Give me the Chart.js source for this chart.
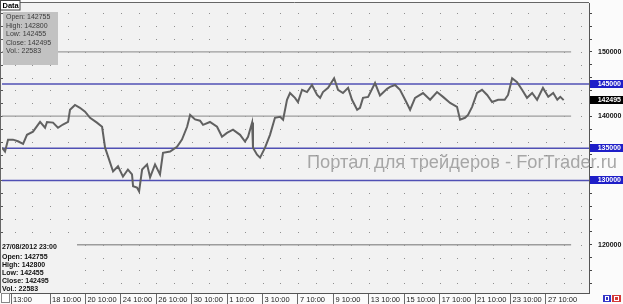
<!DOCTYPE html>
<html><head><meta charset="utf-8">
<script src="https://cdn.jsdelivr.net/npm/chart.js@4/dist/chart.umd.min.js"></script>
<style>html,body{margin:0;padding:0;background:#fbfbfb;overflow:hidden}canvas{display:block}</style>
</head><body>
<canvas id="c" width="623" height="304"></canvas>
<script>
// ---- data (time in trading days from left edge of the view) ----
const barDays = [0.00,0.17,0.34,0.62,0.90,1.19,1.41,1.75,2.15,2.43,2.54,2.88,3.16,3.44,3.73,3.84,4.12,4.40,4.69,4.97,5.36,5.65,5.82,5.99,6.27,6.55,6.83,7.11,7.34,7.40,7.62,7.74,7.91,8.19,8.36,8.64,8.92,9.09,9.49,9.88,10.16,10.45,10.62,10.90,11.18,11.35,11.74,12.14,12.42,12.70,13.04,13.44,13.72,13.89,14.12,14.17,14.40,14.57,14.85,15.13,15.41,15.70,15.87,16.09,16.26,16.54,16.71,16.94,17.22,17.50,17.79,17.96,18.12,18.41,18.75,18.97,19.25,19.54,19.76,20.05,20.21,20.38,20.67,21.06,21.34,21.74,21.91,22.19,22.47,22.76,23.04,23.32,23.77,24.17,24.56,24.90,25.30,25.69,25.86,26.14,26.31,26.54,26.82,27.10,27.39,27.67,28.01,28.38,28.57,28.80,29.08,29.36,29.64,29.93,30.21,30.54,30.84,31.12,31.35,31.52,31.71];
const closePrices = [135100,134500,136350,136350,136100,135700,137100,137600,139100,138200,139100,139000,138200,138700,139100,141000,141750,141300,140700,139750,139000,138350,135100,133700,131400,132200,130600,131700,130950,129100,128900,128300,131700,132500,130500,132500,130950,134300,134500,135250,136350,138350,140200,139500,139300,138650,139100,138350,136800,137400,137900,137100,136050,136800,139000,135100,134000,133550,135100,137100,139750,139900,139450,142550,143600,142850,142200,144100,143750,144850,143300,142850,143750,144400,145900,144100,143600,144400,142550,141000,141300,142850,143000,145150,143200,144250,144550,144850,144100,142550,141000,142850,143600,142550,143750,143000,142050,141450,139450,139750,140200,141450,143600,144100,143300,142200,142550,142550,143300,145900,145300,144100,142850,143600,142550,144400,143000,143600,142550,143000,142495];
const xTickDays = [0.51,2.71,4.71,6.71,8.71,10.71,12.71,14.71,16.71,18.71,20.71,22.71,24.71,26.71,28.71,30.71];
const xTickLabels = ["13:00","18 10:00","20 10:00","24 10:00","26 10:00","30 10:00","1 10:00","3 10:00","7 10:00","9 10:00","13 10:00","15 10:00","17 10:00","21 10:00","23 10:00","27 10:00"];
const yLabelValues = [150000,140000,130000,120000];
const grayLevels = [150000,140000,120000];
const blueLevels = [145000,135000,130000];
const grayLevelEndDay = 32.13;
const lastPrice = 142495;
const infoDate = "27/08/2012 23:00";
const infoNames = ["Open","High","Low","Close","Vol."];
const infoValues = [142755,142800,142455,142495,22583];
const watermark = "Портал для трейдеров - ForTrader.ru";
const xMinDay = 0, xMaxDay = 33.14;
const yMin = 112500, yMax = 157600, yGridStep = 2000;
const firstDayColumn = 0.71;

const FF = '"Liberation Sans", Arial, sans-serif';
const PLOT_BG = '#f2f2f2';

const decorPlugin = {
  id: 'decor',
  beforeDraw(chart) {
    const {ctx, chartArea: a, width, height} = chart;
    const xs = chart.scales.x, ys = chart.scales.y;
    ctx.save();
    ctx.fillStyle = '#fbfbfb'; ctx.fillRect(0, 0, width, height);
    ctx.fillStyle = PLOT_BG; ctx.fillRect(1, a.top, a.right - 1, a.bottom - a.top);
    ctx.fillStyle = '#8f8f8f';
    for (const tk of ys.ticks) {
      const py = Math.round(ys.getPixelForValue(tk.value));
      for (let d = firstDayColumn; d <= xs.max; d += 1) {
        const px = Math.round(xs.getPixelForValue(d));
        ctx.fillRect(px, py, 1, 1);
      }
      ctx.fillStyle = '#555'; ctx.fillRect(1, py, 2, 1); ctx.fillStyle = '#8f8f8f';
    }
    ctx.restore();
  },
  afterDraw(chart) {
    const {ctx, chartArea: a} = chart;
    const ys = chart.scales.y;
    ctx.save();
    // frame
    ctx.strokeStyle = '#666'; ctx.lineWidth = 1;
    ctx.beginPath(); ctx.moveTo(0, 2.5); ctx.lineTo(a.right, 2.5); ctx.stroke();
    ctx.beginPath(); ctx.moveTo(0.5, 2.5); ctx.lineTo(0.5, a.bottom); ctx.stroke();
    // "Data" label
    ctx.fillStyle = '#fff'; ctx.fillRect(1, 1, 19, 9);
    ctx.strokeStyle = '#444'; ctx.strokeRect(0.5, 0.5, 19.5, 9.5);
    ctx.fillStyle = '#000'; ctx.font = 'bold 7.5px ' + FF; ctx.textBaseline = 'middle'; ctx.textAlign = 'left';
    ctx.fillText('Data', 2.5, 6);
    // top-left info box
    ctx.fillStyle = '#c2c2c2'; ctx.fillRect(3, 12, 55, 53);
    ctx.fillStyle = '#3a3a3a'; ctx.font = '7px ' + FF;
    infoNames.forEach((n, i) => ctx.fillText(n + ': ' + infoValues[i], 6, 17.5 + i * 8.4));
    // bottom-left info block
    ctx.fillStyle = PLOT_BG; ctx.fillRect(1, 239, 76, a.bottom - 239);
    ctx.fillStyle = '#111'; ctx.font = 'bold 7px ' + FF;
    ctx.fillText(infoDate, 2, 247.5);
    infoNames.forEach((n, i) => ctx.fillText(n + ': ' + infoValues[i], 2, 257.5 + i * 7.8));
    // watermark
    let fs = 18; ctx.font = fs + 'px ' + FF;
    fs = fs * 310 / ctx.measureText(watermark).width;
    ctx.font = fs + 'px ' + FF; ctx.fillStyle = 'rgba(140,140,140,0.75)'; ctx.textBaseline = 'alphabetic';
    ctx.fillText(watermark, 307, 168);
    // level labels on right axis
    const boxLabel = (v, bg) => {
      const py = ys.getPixelForValue(v);
      ctx.fillStyle = bg; ctx.fillRect(a.right + 1, Math.round(py) - 4, 34, 8);
      ctx.fillStyle = '#fff'; ctx.font = 'bold 7px ' + FF; ctx.textAlign = 'right'; ctx.textBaseline = 'middle';
      ctx.fillText(String(v), 621, Math.round(py) + 0.5);
    };
    blueLevels.forEach(v => boxLabel(v, '#1e1ec8'));
    boxLabel(lastPrice, '#000');
    // corner widgets
    ctx.fillStyle = '#fff'; ctx.fillRect(1, 293, 9, 10);
    ctx.strokeStyle = '#888'; ctx.strokeRect(1.5, 293.5, 8, 9);
    ctx.fillStyle = '#3636c8'; ctx.fillRect(603, 295, 8, 7);
    ctx.fillStyle = '#d43a3a'; ctx.fillRect(612, 295, 9, 7);
    ctx.strokeStyle = '#fff'; ctx.strokeRect(605.5, 296.5, 3, 4); ctx.strokeRect(614.5, 296.5, 4, 4);
    ctx.restore();
  }
};

const priceData = barDays.map((d, i) => ({x: d, y: closePrices[i]}));
const datasets = [
  {data: priceData, borderColor: '#616161', borderWidth: 2, pointRadius: 0, tension: 0, order: 0},
  ...blueLevels.map(v => ({data: [{x: xMinDay, y: v}, {x: xMaxDay, y: v}], borderColor: '#5050b4', borderWidth: 1.5, pointRadius: 0, order: 1})),
  ...grayLevels.map(v => ({data: [{x: xMinDay, y: v}, {x: grayLevelEndDay, y: v}], borderColor: '#9c9c9c', borderWidth: 1.3, pointRadius: 0, order: 2}))
];

new Chart(document.getElementById('c'), {
  type: 'line',
  data: {datasets},
  options: {
    responsive: false, animation: false, devicePixelRatio: 1,
    layout: {padding: {left: 2, top: 3, right: 0, bottom: 0}},
    plugins: {legend: {display: false}, tooltip: {enabled: false}},
    scales: {
      x: {
        type: 'linear', min: xMinDay, max: xMaxDay, bounds: 'data',
        afterBuildTicks: s => { s.ticks = xTickDays.map(v => ({value: v})); },
        afterFit: s => { s.height = 11; s.paddingLeft = 0; s.paddingRight = 0; },
        grid: {drawOnChartArea: false, drawTicks: true, tickLength: 11, color: '#6a6a6a', lineWidth: 1},
        border: {display: true, color: '#555', width: 1},
        ticks: {autoSkip: false, maxRotation: 0, minRotation: 0, align: 'start', padding: -9, labelOffset: 2,
                color: '#222', font: {family: FF, size: 7.5}, callback: (v, i) => xTickLabels[i]}
      },
      y: {
        position: 'right', min: yMin, max: yMax, bounds: 'data',
        afterBuildTicks: s => { const t = []; for (let v = Math.ceil(s.min / yGridStep) * yGridStep; v <= s.max; v += yGridStep) t.push({value: v}); s.ticks = t; },
        afterFit: s => { s.width = 34; s.paddingTop = 0; s.paddingBottom = 0; },
        grid: {drawOnChartArea: false, drawTicks: true, tickLength: 3, color: '#444'},
        border: {display: true, color: '#555', width: 1},
        ticks: {autoSkip: false, padding: 6, color: '#111', font: {family: FF, size: 7, weight: 'bold'},
                callback: v => yLabelValues.includes(v) ? String(v) : ''}
      }
    }
  },
  plugins: [decorPlugin]
});
</script>
</body></html>
